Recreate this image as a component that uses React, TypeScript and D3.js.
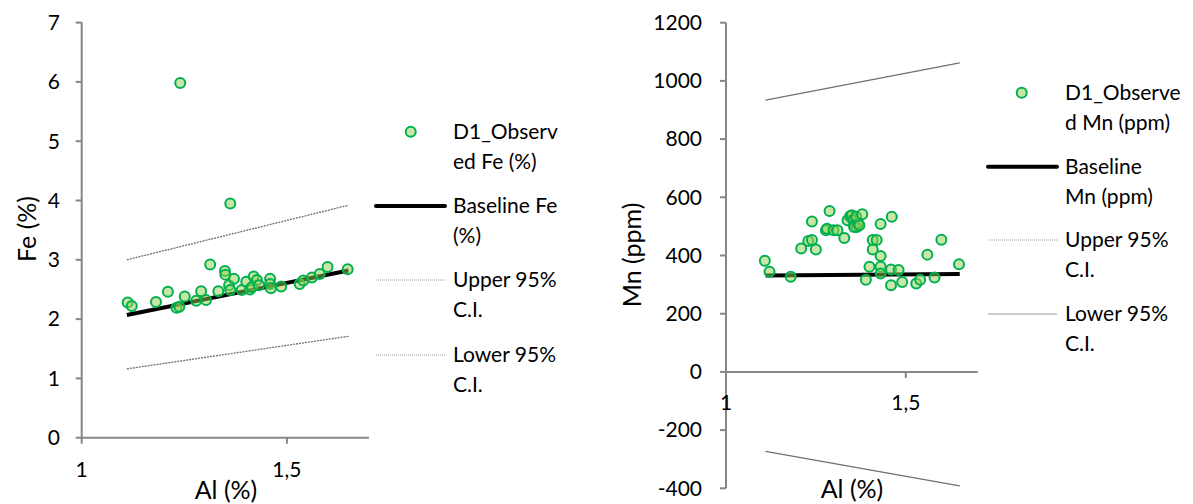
import React from "react";
import * as d3 from "d3";

// Observed Fe (%) against Al (%)
const feAl = [1.112, 1.122, 1.181, 1.21, 1.231, 1.238, 1.24, 1.251, 1.279, 1.291, 1.303, 1.313, 1.333, 1.349, 1.35, 1.359, 1.362, 1.362, 1.371, 1.39, 1.401, 1.41, 1.415, 1.419, 1.427, 1.432, 1.459, 1.459, 1.461, 1.486, 1.531, 1.54, 1.561, 1.58, 1.599, 1.648];
const feObs = [2.28, 2.22, 2.29, 2.46, 2.19, 2.21, 5.98, 2.38, 2.31, 2.47, 2.32, 2.92, 2.47, 2.81, 2.75, 2.57, 2.49, 3.95, 2.68, 2.49, 2.63, 2.5, 2.54, 2.72, 2.66, 2.57, 2.68, 2.59, 2.52, 2.55, 2.59, 2.65, 2.7, 2.76, 2.88, 2.84];

// Observed Mn (ppm) against Al (%)
const mnAl = [1.108, 1.121, 1.18, 1.209, 1.229, 1.239, 1.239, 1.25, 1.278, 1.281, 1.288, 1.299, 1.31, 1.329, 1.338, 1.345, 1.35, 1.354, 1.359, 1.364, 1.356, 1.368, 1.362, 1.371, 1.379, 1.389, 1.399, 1.408, 1.419, 1.408, 1.43, 1.43, 1.43, 1.43, 1.459, 1.459, 1.461, 1.48, 1.49, 1.529, 1.54, 1.56, 1.58, 1.599, 1.648];
const mnObs = [382, 344, 327, 424, 450, 517, 453, 421, 487, 492, 553, 487, 487, 460, 521, 535, 538, 521, 504, 498, 498, 510, 533, 504, 542, 317, 361, 453, 453, 421, 508, 398, 361, 338, 298, 352, 533, 350, 309, 304, 317, 403, 324, 454, 370];

// Baseline regression and 95% confidence limits, given at both ends of the Al range
const lineAl = [1.11, 1.65];
const feBaseline = [2.07, 2.82];
const feUpper = [3.0, 3.92];
const feLower = [1.16, 1.71];
const mnBaseline = [331, 336];
const mnUpper = [934, 1062];
const mnLower = [-273, -392];

const feTicks = [0, 1, 2, 3, 4, 5, 6, 7];
const mnTicks = [-400, -200, 0, 200, 400, 600, 800, 1000, 1200];
const alTicks = [1, 1.5];
const fmtAl = (v: number) => String(v).replace(".", ",");

const FONT = "Lato, 'Open Sans', sans-serif";
const AXIS = "#868686";
const DOT_FILL = "#92D050";
const DOT_STROKE = "#00B050";

type Panel = {
  xRange: [number, number];
  yDomain: [number, number];
  yRange: [number, number];
  yTicks: number[];
  xAxisAt: number;
  xLabelY: number;
  yLabelRight: number;
  xs: number[];
  ys: number[];
  base: number[];
  upper: number[];
  lower: number[];
  upperDash: string | undefined;
  lowerDash: string | undefined;
  yTitle: string;
  yTitlePos: [number, number];
  xTitlePos: [number, number];
  legend: {
    markerX: number;
    lineX: [number, number];
    textX: number;
    rows: { y: number; lines: string[]; kind: string }[];
  };
};

function ChartPanel({ p }: { p: Panel }) {
  const x = d3.scaleLinear().domain([1, 1.7]).range(p.xRange);
  const y = d3.scaleLinear().domain(p.yDomain).range(p.yRange);
  const line = d3
    .line<[number, number]>()
    .x((d) => x(d[0]))
    .y((d) => y(d[1]));
  const pairs = (vals: number[]) => lineAl.map((a, i) => [a, vals[i]] as [number, number]);
  const y0 = y(p.xAxisAt);
  const yBottom = y(p.yDomain[0]);
  const yTop = y(p.yDomain[1]);
  const lg = p.legend;

  return (
    <g fontFamily={FONT} fill="#000">
      {/* y axis */}
      <line x1={x(1)} x2={x(1)} y1={yTop} y2={yBottom} stroke={AXIS} strokeWidth={2} />
      {p.yTicks.map((t) => (
        <g key={t}>
          <line x1={x(1) - 6} x2={x(1)} y1={y(t)} y2={y(t)} stroke={AXIS} strokeWidth={2} />
          <text x={p.yLabelRight} y={y(t)} dy="0.35em" textAnchor="end" fontSize={21}>
            {t}
          </text>
        </g>
      ))}
      {/* x axis */}
      <line x1={x(1)} x2={x(1.7)} y1={y0} y2={y0} stroke={AXIS} strokeWidth={2} />
      {alTicks.map((t) => (
        <g key={t}>
          <line x1={x(t)} x2={x(t)} y1={y0} y2={y0 + 6} stroke={AXIS} strokeWidth={2} />
          <text x={x(t)} y={p.xLabelY} dy="0.35em" textAnchor="middle" fontSize={21}>
            {fmtAl(t)}
          </text>
        </g>
      ))}
      {/* confidence limits */}
      <path d={line(pairs(p.upper)) || ""} fill="none" stroke="#707070" strokeWidth={1.3} strokeDasharray={p.upperDash} />
      <path d={line(pairs(p.lower)) || ""} fill="none" stroke="#707070" strokeWidth={1.3} strokeDasharray={p.lowerDash} />
      {/* baseline */}
      <path d={line(pairs(p.base)) || ""} fill="none" stroke="#000" strokeWidth={4} />
      {/* observations */}
      {p.xs.map((a, i) => (
        <circle
          key={i}
          cx={x(a)}
          cy={y(p.ys[i])}
          r={5}
          fill={DOT_FILL}
          fillOpacity={0.5}
          stroke={DOT_STROKE}
          strokeWidth={2}
        />
      ))}
      {/* axis titles */}
      <text
        transform={`translate(${p.yTitlePos[0]},${p.yTitlePos[1]}) rotate(-90)`}
        dy="0.35em"
        textAnchor="middle"
        fontSize={25}
      >
        {p.yTitle}
      </text>
      <text x={p.xTitlePos[0]} y={p.xTitlePos[1]} dy="0.35em" textAnchor="middle" fontSize={25}>
        Al (%)
      </text>
      {/* legend */}
      {lg.rows.map((r, i) => (
        <g key={i}>
          {r.kind === "dot" && (
            <circle cx={lg.markerX} cy={r.y} r={5} fill={DOT_FILL} fillOpacity={0.5} stroke={DOT_STROKE} strokeWidth={2} />
          )}
          {r.kind === "base" && (
            <line x1={lg.lineX[0]} x2={lg.lineX[1]} y1={r.y} y2={r.y} stroke="#000" strokeWidth={4} strokeLinecap="round" />
          )}
          {r.kind === "dotted" && (
            <line x1={lg.lineX[0]} x2={lg.lineX[1]} y1={r.y} y2={r.y} stroke="#9a9a9a" strokeWidth={1} strokeDasharray="1 1" />
          )}
          {r.kind === "solid" && (
            <line x1={lg.lineX[0]} x2={lg.lineX[1]} y1={r.y} y2={r.y} stroke="#9a9a9a" strokeWidth={1} />
          )}
          {r.lines.map((s, j) => (
            <text key={j} x={lg.textX} y={r.y + j * 30} dy="0.35em" fontSize={21}>
              {s}
            </text>
          ))}
        </g>
      ))}
    </g>
  );
}

const fePanel: Panel = {
  xRange: [81.7, 369],
  yDomain: [0, 7],
  yRange: [437.7, 22.6],
  yTicks: feTicks,
  xAxisAt: 0,
  xLabelY: 470,
  yLabelRight: 60,
  xs: feAl,
  ys: feObs,
  base: feBaseline,
  upper: feUpper,
  lower: feLower,
  upperDash: "2 1",
  lowerDash: "2 1",
  yTitle: "Fe (%)",
  yTitlePos: [27, 229],
  xTitlePos: [226, 490],
  legend: {
    markerX: 410.7,
    lineX: [376, 445],
    textX: 453,
    rows: [
      { y: 131.7, lines: ["D1_Observ", "ed Fe (%)"], kind: "dot" },
      { y: 206, lines: ["Baseline Fe", "(%)"], kind: "base" },
      { y: 280, lines: ["Upper 95%", "C.I."], kind: "dotted" },
      { y: 355, lines: ["Lower 95%", "C.I."], kind: "dotted" },
    ],
  },
};

const mnPanel: Panel = {
  xRange: [726, 977.7],
  yDomain: [-400, 1200],
  yRange: [488.3, 22.7],
  yTicks: mnTicks,
  xAxisAt: 0,
  xLabelY: 403,
  yLabelRight: 702,
  xs: mnAl,
  ys: mnObs,
  base: mnBaseline,
  upper: mnUpper,
  lower: mnLower,
  upperDash: undefined,
  lowerDash: undefined,
  yTitle: "Mn (ppm)",
  yTitlePos: [632, 255],
  xTitlePos: [852, 489],
  legend: {
    markerX: 1021.7,
    lineX: [988, 1057],
    textX: 1065,
    rows: [
      { y: 92.7, lines: ["D1_Observe", "d Mn (ppm)"], kind: "dot" },
      { y: 166.7, lines: ["Baseline", "Mn (ppm)"], kind: "base" },
      { y: 240, lines: ["Upper 95%", "C.I."], kind: "dotted" },
      { y: 314, lines: ["Lower 95%", "C.I."], kind: "solid" },
    ],
  },
};

export default function App() {
  return (
    <svg
      width={1193}
      height={504}
      viewBox="0 0 1193 504"
      style={{ position: "absolute", left: 0, top: 0, background: "#fff" }}
    >
      <rect width={1193} height={504} fill="#fff" />
      <ChartPanel p={fePanel} />
      <ChartPanel p={mnPanel} />
    </svg>
  );
}
